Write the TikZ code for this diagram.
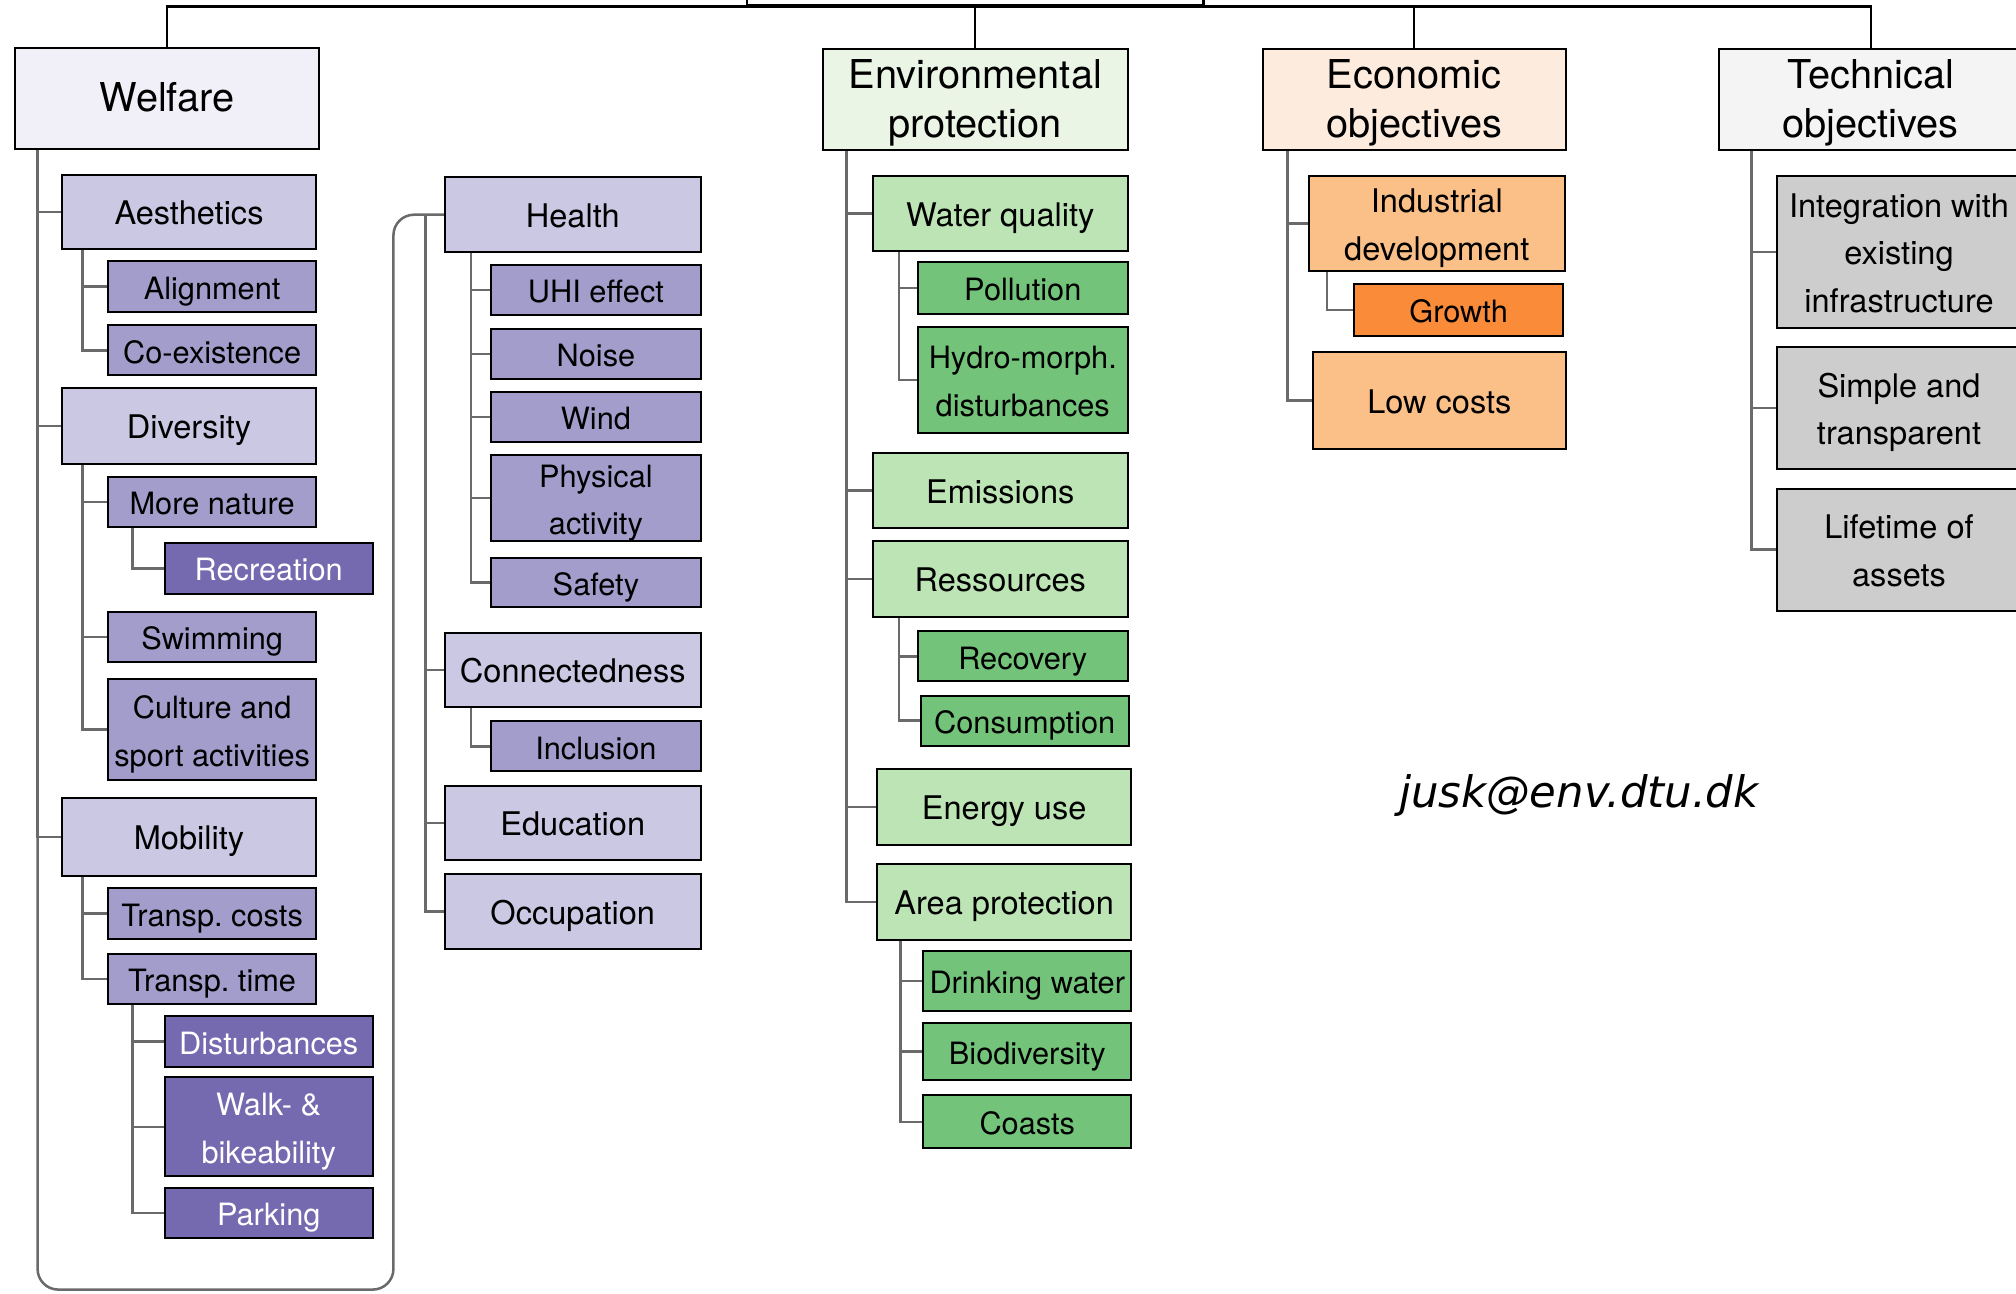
\documentclass[tikz,border=0pt]{standalone}
\usepackage{fontspec}
\setmainfont{TeX Gyre Heros}
\newfontfamily\emailfont{DejaVu Sans}
\frenchspacing
\newcommand\cfnt{\fontsize{18}{26.3}\selectfont}
\newcommand\sfnt{\fontsize{17}{26.3}\selectfont}
\newcommand\hfnt{\fontsize{22}{27}\selectfont}
\definecolor{cW0}{HTML}{F1EFF7}
\definecolor{cW1}{HTML}{CBC8E3}
\definecolor{cW2}{HTML}{A29DCB}
\definecolor{cW3}{HTML}{7569B0}
\definecolor{cE0}{HTML}{EAF5E6}
\definecolor{cE1}{HTML}{BCE4B5}
\definecolor{cE2}{HTML}{73C47A}
\definecolor{cO0}{HTML}{FDEBDD}
\definecolor{cO1}{HTML}{FBBF88}
\definecolor{cO2}{HTML}{F98B39}
\definecolor{cT0}{HTML}{F4F4F4}
\definecolor{cT1}{HTML}{CDCDCD}
\definecolor{cConn}{HTML}{6A6A6A}
\tikzset{
  box/.style={draw=black, line width=1.1pt, inner sep=0pt, align=center, font=\cfnt, text height=14pt, text depth=0pt},
  small/.style={font=\sfnt},
  hdr/.style={box, font=\hfnt, text height=15pt},
  twoline/.style={text height=40.3pt},
  threeline/.style={text height=66.6pt},
  hdrtwo/.style={text height=42pt},
  W1/.style={box, fill=cW1}, W2/.style={box, small, fill=cW2}, W3/.style={box, small, fill=cW3, text=white},
  E1/.style={box, fill=cE1}, E2/.style={box, small, fill=cE2},
  O1/.style={box, fill=cO1}, O2/.style={box, small, fill=cO2},
  T1/.style={box, fill=cT1},
  conn/.style={draw=cConn, line width=1.4pt},
  topconn/.style={draw=black, line width=1.3pt},
}
\newcommand\bx[7]{\node[#6, minimum width={(#4-#2)*0.025cm}, minimum height={(#5-#3)*0.025cm}] (#1) at ({(#2+#4)/2},{(#3+#5)/2}) {#7};}
\begin{document}
\begin{tikzpicture}[x=0.025cm, y=-0.025cm]
\useasboundingbox (0,0) rectangle (1568,1006.4);
% root (cut off at top)
\node[draw=black, line width=1.3pt, minimum width={(936-581)*0.025cm}, minimum height=1cm, anchor=south, inner sep=0pt] (root) at (758.5,5) {};
% headers
\bx{welfare}{12}{37}{248}{116}{hdr,fill=cW0}{Welfare}
\bx{env}{640}{38}{877}{117}{hdr,hdrtwo,fill=cE0}{Environmental\\protection}
\bx{econ}{982}{38}{1218}{117}{hdr,hdrtwo,fill=cO0}{Economic\\objectives}
\bx{tech}{1337}{38}{1573}{117}{hdr,hdrtwo,fill=cT0}{Technical\\objectives}
\draw[topconn] (root.south) -| (welfare.north);
\draw[topconn] (root.south) -- (env.north);
\draw[topconn] (root.south) -| (econ.north);
\draw[topconn] (root.south) -| (tech.north);
% Welfare column 1
\bx{aesth}{48}{136}{246}{194}{W1}{Aesthetics}
\bx{align}{84}{203}{246}{243}{W2}{Alignment}
\bx{coex}{84}{253}{246}{292}{W2}{Co-existence}
\bx{divers}{48}{302}{246}{361}{W1}{Diversity}
\bx{morenat}{84}{371}{246}{410}{W2}{More nature}
\bx{recr}{128}{422}{290}{462}{W3}{Recreation}
\bx{swim}{84}{476}{246}{515}{W2}{Swimming}
\bx{culture}{84}{528}{246}{607}{W2,twoline}{Culture and\\sport activities}
\bx{mobil}{48}{621}{246}{681}{W1}{Mobility}
\bx{tcost}{84}{691}{246}{730}{W2}{Transp. costs}
\bx{ttime}{84}{742}{246}{781}{W2}{Transp. time}
\bx{disturb}{128}{790}{290}{830}{W3}{Disturbances}
\bx{walk}{128}{838}{290}{915}{W3,twoline}{Walk- \&\\bikeability}
\bx{park}{128}{924}{290}{963}{W3}{Parking}
% Welfare column 2
\bx{health}{346}{138}{545}{196}{W1}{Health}
\bx{uhi}{382}{206}{545}{245}{W2}{UHI effect}
\bx{noise}{382}{256}{545}{295}{W2}{Noise}
\bx{wind}{382}{305}{545}{344}{W2}{Wind}
\bx{phys}{382}{354}{545}{421}{W2,twoline}{Physical\\activity}
\bx{safety}{382}{434}{545}{472}{W2}{Safety}
\bx{connect}{346}{492}{545}{550}{W1}{Connectedness}
\bx{incl}{382}{561}{545}{600}{W2}{Inclusion}
\bx{educ}{346}{611}{545}{669}{W1}{Education}
\bx{occup}{346}{680}{545}{738}{W1}{Occupation}
% Environmental
\bx{waterq}{679}{137}{877}{195}{E1}{Water quality}
\bx{pollut}{714}{204}{877}{244}{E2}{Pollution}
\bx{hydro}{714}{254}{877}{337}{E2,twoline}{Hydro-morph.\\disturbances}
\bx{emiss}{679}{352}{877}{411}{E1}{Emissions}
\bx{ress}{679}{421}{877}{480}{E1}{Ressources}
\bx{recov}{714}{491}{877}{530}{E2}{Recovery}
\bx{consum}{716}{541}{878}{580}{E2}{Consumption}
\bx{energy}{682}{598}{880}{657}{E1}{Energy use}
\bx{area}{682}{672}{880}{731}{E1}{Area protection}
\bx{drink}{718}{740}{880}{786}{E2}{Drinking water}
\bx{biodiv}{718}{796}{880}{840}{E2}{Biodiversity}
\bx{coasts}{718}{852}{880}{893}{E2}{Coasts}
% Economic
\bx{indus}{1018}{137}{1217}{211}{O1,twoline}{Industrial\\development}
\bx{growth}{1053}{221}{1216}{261}{O2}{Growth}
\bx{lowcost}{1021}{274}{1218}{349}{O1}{Low costs}
% Technical
\bx{integ}{1382}{137}{1572}{255}{T1,threeline}{Integration with\\existing\\infrastructure}
\bx{simple}{1382}{270}{1572}{365}{T1,twoline}{Simple and\\transparent}
\bx{life}{1382}{380}{1572}{475}{T1,twoline}{Lifetime of\\assets}
% email
\node[font=\emailfont\itshape\fontsize{24}{28}\selectfont] (email) at (1228,619) {jusk@env.dtu.dk};
% Welfare connectors
\coordinate (brk) at (306,1003);
\coordinate (c2) at (331,167);
\draw[conn, rounded corners=0.4cm] ([xshift=0.45cm]welfare.south west) |- (brk) |- (health.west);
\foreach \c in {aesth,divers,mobil} \draw[conn] ([xshift=0.45cm]welfare.south west) |- (\c.west);
\foreach \c in {align,coex} \draw[conn] ([xshift=0.425cm]aesth.south west) |- (\c.west);
\foreach \c in {morenat,swim,culture} \draw[conn] ([xshift=0.425cm]divers.south west) |- (\c.west);
\draw[conn] ([xshift=0.5cm]morenat.south west) |- (recr.west);
\foreach \c in {tcost,ttime} \draw[conn] ([xshift=0.425cm]mobil.south west) |- (\c.west);
\foreach \c in {disturb,walk,park} \draw[conn] ([xshift=0.5cm]ttime.south west) |- (\c.west);
\foreach \c in {connect,educ,occup} \draw[conn] (c2) |- (\c.west);
\foreach \c in {uhi,noise,wind,phys,safety} \draw[conn] ([xshift=0.525cm]health.south west) |- (\c.west);
\draw[conn] ([xshift=0.525cm]connect.south west) |- (incl.west);
% Env connectors
\foreach \c in {waterq,emiss,ress,energy,area} \draw[conn] ([xshift=0.475cm]env.south west) |- (\c.west);
\foreach \c in {pollut,hydro} \draw[conn] ([xshift=0.525cm]waterq.south west) |- (\c.west);
\foreach \c in {recov,consum} \draw[conn] ([xshift=0.525cm]ress.south west) |- (\c.west);
\foreach \c in {drink,biodiv,coasts} \draw[conn] ([xshift=0.475cm]area.south west) |- (\c.west);
% Econ connectors
\foreach \c in {indus,lowcost} \draw[conn] ([xshift=0.5cm]econ.south west) |- (\c.west);
\draw[conn] ([xshift=0.375cm]indus.south west) |- (growth.west);
% Tech connectors
\foreach \c in {integ,simple,life} \draw[conn] ([xshift=0.65cm]tech.south west) |- (\c.west);
\end{tikzpicture}
\end{document}
